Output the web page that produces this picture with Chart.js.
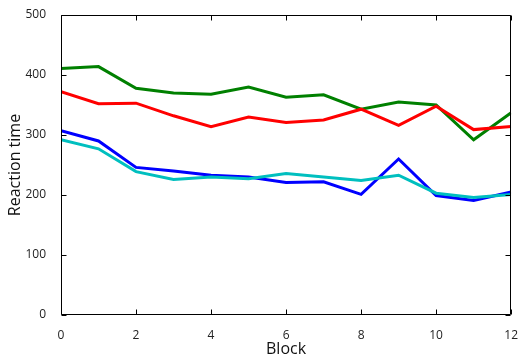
<!DOCTYPE html>
<html>
<head>
<meta charset="utf-8">
<script src="https://cdn.jsdelivr.net/npm/chart.js@4"></script>
<style>
html,body{margin:0;padding:0;background:#fff;}
#wrap{width:523px;height:357px;}
</style>
</head>
<body>
<div id="wrap"><canvas id="c" width="523" height="357"></canvas></div>
<script>
const blocks = [0,1,2,3,4,5,6,7,8,9,10,11,12];
const blueSeries  = [307,290,246,240,233,230,221,222,201,260,199,191,205];
const greenSeries = [411,414,378,370,368,380,363,367,343,355,350,292,337];
const redSeries   = [372,352,353,332,314,330,321,325,343,316,348,309,314];
const cyanSeries  = [292,277,239,226,230,227,236,230,224,233,203,196,201];
const xTicks = [0,2,4,6,8,10,12];
const yTicks = [0,100,200,300,400,500];

function mk(vals){ return blocks.map((b,i)=>({x:b,y:vals[i]})); }

const frame = {
  id:'frame',
  afterDatasetsDraw(chart){
    const {ctx, chartArea:a, scales:{x,y}} = chart;
    ctx.save();
    ctx.strokeStyle = '#000';
    ctx.lineWidth = 1;
    const L = Math.round(a.left)+0.5, R = Math.round(a.right)-0.5, T = Math.round(a.top)+0.5, B = Math.round(a.bottom)-0.5;
    ctx.beginPath();
    ctx.rect(L, T, R-L, B-T);
    ctx.stroke();
    ctx.beginPath();
    const tl = 5;
    xTicks.forEach(v=>{
      const px = Math.round(x.getPixelForValue(v))+0.5;
      ctx.moveTo(px,B); ctx.lineTo(px,B-tl);
      ctx.moveTo(px,T); ctx.lineTo(px,T+tl);
    });
    yTicks.forEach(v=>{
      const py = Math.round(y.getPixelForValue(v))+0.5;
      ctx.moveTo(L,py); ctx.lineTo(L+tl,py);
      ctx.moveTo(R,py); ctx.lineTo(R-tl,py);
    });
    ctx.stroke();
    ctx.restore();
  }
};

new Chart(document.getElementById('c'), {
  type:'line',
  data:{
    datasets:[
      {data:mk(blueSeries), borderColor:'#0000ff', order:3},
      {data:mk(greenSeries), borderColor:'#008000', order:2},
      {data:mk(redSeries), borderColor:'#ff0000', order:1},
      {data:mk(cyanSeries), borderColor:'#00bfbf', order:0}
    ]
  },
  options:{
    responsive:false,
    animation:false,
    devicePixelRatio:1,
    layout:{padding:{left:0,right:8,top:15,bottom:0}},
    elements:{line:{borderWidth:3, tension:0, borderCapStyle:'butt', borderJoinStyle:'miter'}, point:{radius:0}},
    plugins:{legend:{display:false}, tooltip:{enabled:false}},
    scales:{
      x:{
        type:'linear', min:0, max:12,
        grid:{display:false}, border:{display:false},
        afterBuildTicks(s){ s.ticks = xTicks.map(v=>({value:v})); },
        afterFit(s){ s.height = 42; },
        ticks:{padding:5, color:'#222', font:{family:'Open Sans', size:12}, maxRotation:0, autoSkip:false},
        title:{display:true, text:'Block', color:'#111', font:{family:'Open Sans', size:16}, padding:{top:0,bottom:-2}}
      },
      y:{
        type:'linear', min:0, max:500,
        grid:{display:false}, border:{display:false},
        afterBuildTicks(s){ s.ticks = yTicks.map(v=>({value:v})); },
        afterFit(s){ s.width = 61; },
        ticks:{padding:7, color:'#222', font:{family:'Open Sans', size:12}, autoSkip:false},
        title:{display:true, text:'Reaction time', color:'#111', font:{family:'Open Sans', size:16}, padding:{top:6,bottom:0}}
      }
    }
  },
  plugins:[frame]
});
</script>
</body>
</html>
